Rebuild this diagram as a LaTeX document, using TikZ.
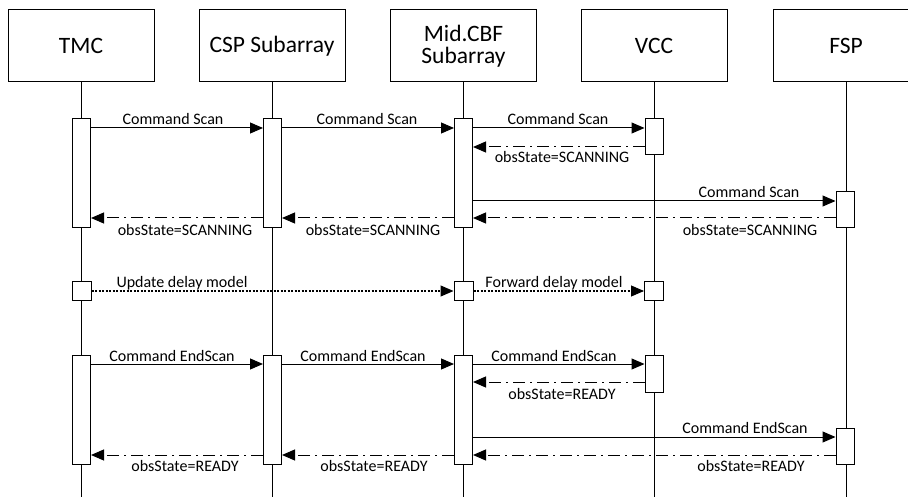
\documentclass[tikz,border=0pt]{standalone}
\usepackage{fontspec}
\setmainfont{Carlito}
\usetikzlibrary{arrows.meta}
\begin{document}
\begin{tikzpicture}[x=1pt,y=-1pt,
 head/.style={draw, line width=1pt, minimum width=146pt, minimum height=72pt, inner sep=0pt, font=\fontsize{23.5}{22}\selectfont, align=center},
 act/.style={draw, fill=white, line width=1pt, minimum width=18pt, inner sep=0pt},
 life/.style={line width=1pt},
 msg/.style={line width=1pt, -{Triangle[length=13pt,width=11pt]}},
 ret/.style={msg, dash pattern=on 12pt off 5pt on 2pt off 5pt},
 dly/.style={msg, dash pattern=on 2pt off 1.5pt},
 lbl/.style={font=\fontsize{16}{18}\selectfont, inner sep=0pt}
]
\useasboundingbox (0,0) rectangle (908,497);
% headers
\node[head] (tmc) at (81,46) {TMC};
\node[head] (csp) at (272,46) {CSP Subarray};
\node[head] (mid) at (463.5,46) {Mid.CBF\\Subarray};
\node[head] (vcc) at (654,46) {VCC};
\node[head] (fsp) at (846,46) {FSP};
% lifeline ends
\coordinate (tmcE) at (81,497);
\coordinate (cspE) at (272,497);
\coordinate (midE) at (463.5,497);
\coordinate (vccE) at (654,497);
\coordinate (fspE) at (846,497);
\draw[life] (tmc.south) -- (tmcE);
\draw[life] (csp.south) -- (cspE);
\draw[life] (mid.south) -- (midE);
\draw[life] (vcc.south) -- (vccE);
\draw[life] (fsp.south) -- (fspE);
% activations: Scan
\node[act, minimum height=109pt] (tA) at (81.5,173.5) {};
\node[act, minimum height=109pt] (cA) at (272.5,173.5) {};
\node[act, minimum height=109pt] (mA) at (463.5,173.5) {};
\node[act, minimum height=36pt] (vA) at (654,137) {};
\node[act, minimum height=36pt] (fA) at (845,210) {};
% activations: delay
\node[act, minimum height=19pt, minimum width=19pt] (tD) at (81.5,291) {};
\node[act, minimum height=19pt, minimum width=19pt] (mD) at (463.5,291) {};
\node[act, minimum height=19pt, minimum width=19pt] (vD) at (654,291) {};
% activations: EndScan
\node[act, minimum height=109pt] (tB) at (81.5,409.5) {};
\node[act, minimum height=109pt] (cB) at (272.5,409.5) {};
\node[act, minimum height=109pt] (mB) at (463.5,409.5) {};
\node[act, minimum height=37pt] (vB) at (654,373.5) {};
\node[act, minimum height=36pt] (fB) at (845,446) {};
% Scan messages
\draw[msg] (tA.east |- 0,128) -- (cA.west |- 0,128);
\draw[msg] (cA.east |- 0,128) -- (mA.west |- 0,128);
\draw[msg] (mA.east |- 0,128) -- (vA.west |- 0,128);
\draw[ret] (vA.west |- 0,147) -- (mA.east |- 0,147);
\draw[msg] (mA.east |- 0,201) -- (fA.west |- 0,201);
\draw[ret] (fA.west |- 0,218) -- (mA.east |- 0,218);
\draw[ret] (mA.west |- 0,218) -- (cA.east |- 0,218);
\draw[ret] (cA.west |- 0,218) -- (tA.east |- 0,218);
\node[lbl] (l1) at (173,119) {Command Scan};
\node[lbl] (l2) at (367,119) {Command Scan};
\node[lbl] (l3) at (558,119) {Command Scan};
\node[lbl] (l4) at (749,192) {Command Scan};
\node[lbl] (l5) at (185,230) {obsState=SCANNING};
\node[lbl] (l6) at (373,230) {obsState=SCANNING};
\node[lbl] (l7) at (562,157) {obsState=SCANNING};
\node[lbl] (l8) at (750,230) {obsState=SCANNING};
% delay model
\draw[dly] (tD) -- (mD);
\draw[dly] (mD) -- (vD);
\node[lbl] (l9) at (182,283) {Update delay model};
\node[lbl] (l10) at (554,283) {Forward delay model};
% EndScan messages
\draw[msg] (tB.east |- 0,364) -- (cB.west |- 0,364);
\draw[msg] (cB.east |- 0,364) -- (mB.west |- 0,364);
\draw[msg] (mB.east |- 0,364) -- (vB.west |- 0,364);
\draw[ret] (vB.west |- 0,382) -- (mB.east |- 0,382);
\draw[msg] (mB.east |- 0,437) -- (fB.west |- 0,437);
\draw[ret] (fB.west |- 0,455) -- (mB.east |- 0,455);
\draw[ret] (mB.west |- 0,455) -- (cB.east |- 0,455);
\draw[ret] (cB.west |- 0,455) -- (tB.east |- 0,455);
\node[lbl] (m1) at (172,356) {Command EndScan};
\node[lbl] (m2) at (363,356) {Command EndScan};
\node[lbl] (m3) at (554,356) {Command EndScan};
\node[lbl] (m4) at (745,428) {Command EndScan};
\node[lbl] (m5) at (185,466) {obsState=READY};
\node[lbl] (m6) at (374,466) {obsState=READY};
\node[lbl] (m7) at (562,394) {obsState=READY};
\node[lbl] (m8) at (751,466) {obsState=READY};
\end{tikzpicture}
\end{document}
